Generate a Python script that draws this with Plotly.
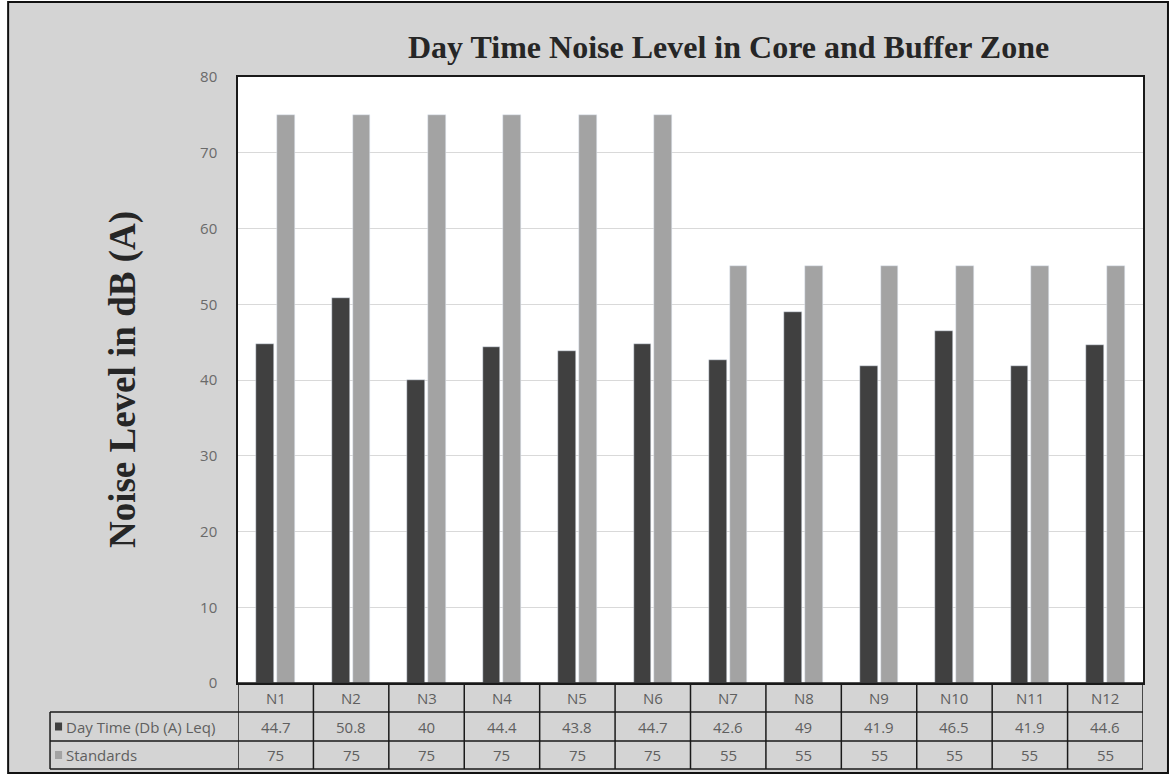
import plotly.graph_objects as go

# Monitoring stations and measured daytime noise levels
stations = ["N1", "N2", "N3", "N4", "N5", "N6", "N7", "N8", "N9", "N10", "N11", "N12"]
day_time = [44.7, 50.8, 40, 44.4, 43.8, 44.7, 42.6, 49, 41.9, 46.5, 41.9, 44.6]
standards = [75, 75, 75, 75, 75, 75, 55, 55, 55, 55, 55, 55]
series_names = ["Day Time (Db (A) Leq)", "Standards"]
y_ticks = [0, 10, 20, 30, 40, 50, 60, 70, 80]

DARK = "#404040"
LIGHT = "#a3a3a3"
BG = "#d4d4d4"
TXT = "#5f5f5f"

fig = go.Figure()
fig.add_trace(go.Bar(x=list(range(len(stations))), y=day_time, name=series_names[0],
                     marker_color=DARK, width=0.235, offset=-0.255))
fig.add_trace(go.Bar(x=list(range(len(stations))), y=standards, name=series_names[1],
                     marker_color=LIGHT, width=0.235, offset=0.02))

shapes = []
# outer chart frame
shapes.append(dict(type="rect", xref="paper", yref="paper", x0=-0.254, x1=1.0276,
                   y0=-0.1485, y1=1.1238, fillcolor=BG,
                   line=dict(color="#111111", width=2), layer="below"))
# white plotting area
shapes.append(dict(type="rect", xref="paper", yref="paper", x0=0, x1=1, y0=0, y1=1,
                   fillcolor="white", line=dict(width=0), layer="below"))

# data table under the axis
n = len(stations)
row_y = [0, -0.0479, -0.0957, -0.1419]
left_x = -0.2077
line_style = dict(color="#1a1a1a", width=1.5)
# horizontal rules
shapes.append(dict(type="line", xref="paper", yref="paper", x0=0, x1=1,
                   y0=row_y[0], y1=row_y[0], line=line_style))
for yv in row_y[1:]:
    shapes.append(dict(type="line", xref="paper", yref="paper", x0=left_x, x1=1,
                       y0=yv, y1=yv, line=line_style))
# vertical rules at category boundaries
for i in range(n + 1):
    shapes.append(dict(type="line", xref="x", yref="paper", x0=i - 0.5, x1=i - 0.5,
                       y0=row_y[0], y1=row_y[3], line=line_style))
shapes.append(dict(type="line", xref="paper", yref="paper", x0=left_x, x1=left_x,
                   y0=row_y[1], y1=row_y[3], line=line_style))
# legend keys in the table
for k, col in enumerate([DARK, LIGHT]):
    yc = (row_y[k + 1] + row_y[k + 2]) / 2
    shapes.append(dict(type="rect", xref="paper", yref="paper",
                       x0=-0.2022, x1=-0.1944, y0=yc - 0.0066, y1=yc + 0.0066,
                       fillcolor=col, line=dict(width=0)))

annotations = []
cell_font = dict(family="Open Sans, Liberation Sans", size=15, color=TXT)


def cell(x, y, text, xref="x", xanchor="center"):
    return dict(x=x, y=y, xref=xref, yref="paper", text=text, showarrow=False,
                xanchor=xanchor, yanchor="middle", font=cell_font)


for i, s in enumerate(stations):
    annotations.append(cell(i, (row_y[0] + row_y[1]) / 2, s))
    annotations.append(cell(i, (row_y[1] + row_y[2]) / 2, str(day_time[i])))
    annotations.append(cell(i, (row_y[2] + row_y[3]) / 2, str(standards[i])))
for k, name in enumerate(series_names):
    annotations.append(cell(-0.1925, (row_y[k + 1] + row_y[k + 2]) / 2, name,
                            xref="paper", xanchor="left"))

# titles
annotations.append(dict(x=0.5425, y=1.0495, xref="paper", yref="paper",
                        xanchor="center", yanchor="middle",
                        text="<b>Day Time Noise Level in Core and Buffer Zone</b>",
                        showarrow=False,
                        font=dict(family="Liberation Serif, Times New Roman", size=32,
                                  color="#262626")))
annotations.append(dict(x=-0.127, y=0.5, xref="paper", yref="paper",
                        xanchor="center", yanchor="middle",
                        text="<b>Noise Level in dB (A)</b>", textangle=-90,
                        showarrow=False,
                        font=dict(family="Liberation Serif, Times New Roman", size=37,
                                  color="#262626")))

fig.update_layout(
    width=1176, height=780,
    margin=dict(l=238, r=33, t=77, b=97),
    paper_bgcolor="white", plot_bgcolor="rgba(0,0,0,0)",
    showlegend=False, bargap=0,
    shapes=shapes, annotations=annotations,
    xaxis=dict(range=[-0.5, n - 0.5], showticklabels=False, showgrid=False,
               zeroline=False, showline=True, linecolor="#1a1a1a", linewidth=1.5,
               mirror=True, fixedrange=True),
    yaxis=dict(range=[0, 80], tickvals=y_ticks, showgrid=True, gridcolor="#d9d9d9",
               gridwidth=1, zeroline=False, showline=True, linecolor="#1a1a1a",
               linewidth=1.5, mirror=True, ticklabelstandoff=16,
               tickfont=dict(family="Open Sans, Liberation Sans", size=15, color="#6a6a6a")),
)

fig.write_html("out.html")
